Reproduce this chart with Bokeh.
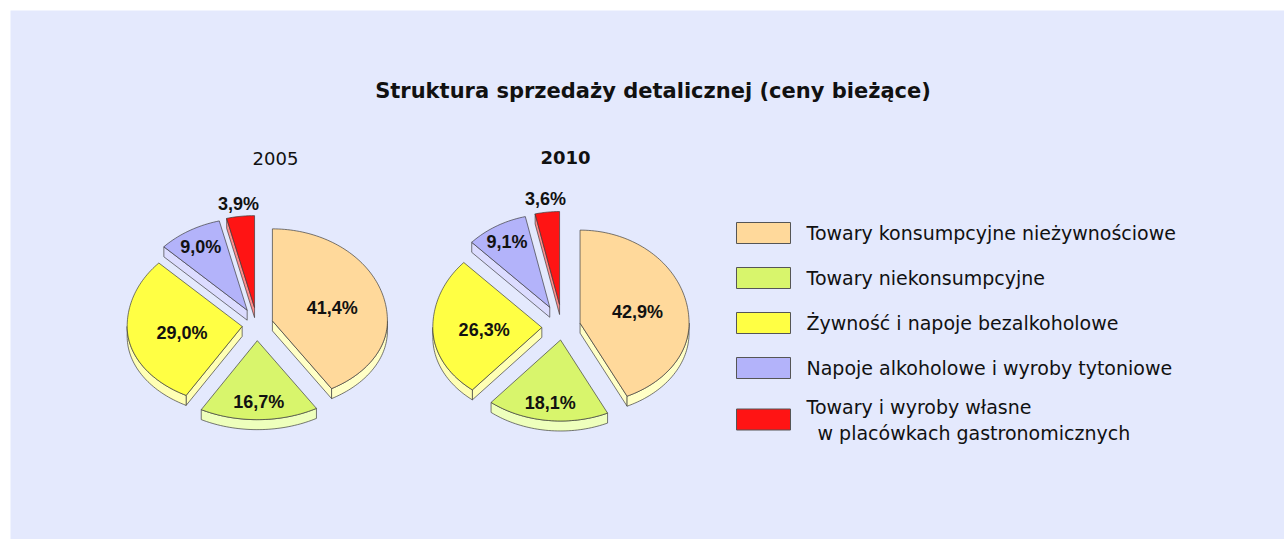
import math
from bokeh.plotting import figure
from bokeh.models import Range1d, ColumnDataSource
from bokeh.core.properties import value
from bokeh.embed import file_html
from bokeh.resources import INLINE

# ---------------- data ----------------
title_text = "Struktura sprzedaży detalicznej (ceny bieżące)"
years = ["2005", "2010"]
categories = [
    "Towary konsumpcyjne nieżywnościowe",
    "Towary niekonsumpcyjne",
    "Żywność i napoje bezalkoholowe",
    "Napoje alkoholowe i wyroby tytoniowe",
    "Towary i wyroby własne\nw placówkach gastronomicznych",
]
values_2005 = [41.4, 16.7, 29.0, 9.0, 3.9]
values_2010 = [42.9, 18.1, 26.3, 9.1, 3.6]

# ---------------- style / layout ----------------
top_colors = ["#FFD99B", "#D8F56C", "#FFFF44", "#B3B3FA", "#FF1414"]
side_colors = ["#FFFFC6", "#EEFFBC", "#FFFFB4", "#DCDCFF", "#FF8C8C"]
BG = "#E4E9FD"
EDGE = "#3A3A3A"

W, H = 1284, 539
X0, X1 = 10, 1284
Y0, Y1 = 10, 539

pies = [
    dict(values=values_2005, cx=256.5, cy=324, rx=115, ry_up=92, ry_down=79,
         explode=[16, 19, 15, 19.5, 20], year_x=275, year_y=158, bold=False),
    dict(values=values_2010, cx=562, cy=326, rx=109, ry_up=93, ry_down=81,
         explode=[18, 16, 20.7, 26, 26], year_x=565, year_y=157, bold=True),
]
THICK = 10
K = 0.85
label_f = [0.54, 0.78, 0.53, 0.8, 1.14]

p = figure(width=W, height=H, output_backend="svg", toolbar_location=None,
           x_range=Range1d(X0, X1), y_range=Range1d(Y1, Y0),
           x_axis_type=None, y_axis_type=None,
           min_border_left=10, min_border_top=10, min_border_right=0, min_border_bottom=0)
p.background_fill_color = BG
p.border_fill_color = "white"
p.outline_line_color = None
p.grid.visible = False


def ell(deg, pie):
    t = math.radians(deg)
    s, c = math.sin(t), math.cos(t)
    ry = pie["ry_up"] if c > 0 else pie["ry_down"]
    return pie["rx"] * s, -c * ry


polys = []
labels_x, labels_y, labels_t = [], [], []

for pie in pies:
    vals = pie["values"]
    total = sum(vals)
    start = 0.0
    for i, v in enumerate(vals):
        a0 = start
        a1 = start + 360.0 * v / total
        start = a1
        m = math.radians((a0 + a1) / 2)
        e = pie["explode"][i]
        ax = pie["cx"] + e * math.sin(m)
        ay = pie["cy"] - e * math.cos(m) * K
        n = max(int((a1 - a0) / 1.5), 4)
        arc = []
        for k in range(n + 1):
            d = a0 + (a1 - a0) * k / n
            dx, dy = ell(d, pie)
            arc.append((ax + dx, ay + dy))
        shapes = []
        if -math.sin(math.radians(a0)) > 1e-6:
            px, py = arc[0]
            shapes.append(([ax, px, px, ax], [ay, py, py + THICK, ay + THICK], side_colors[i]))
        if math.sin(math.radians(a1)) > 1e-6:
            px, py = arc[-1]
            shapes.append(([ax, px, px, ax], [ay, py, py + THICK, ay + THICK], side_colors[i]))
        b0, b1 = max(a0, 90.0), min(a1, 270.0)
        if b1 > b0:
            nb = max(int((b1 - b0) / 1.5), 3)
            top = []
            for k in range(nb + 1):
                d = b0 + (b1 - b0) * k / nb
                dx, dy = ell(d, pie)
                top.append((ax + dx, ay + dy))
            xs = [q[0] for q in top] + [q[0] for q in reversed(top)]
            ys = [q[1] for q in top] + [q[1] + THICK for q in reversed(top)]
            shapes.append((xs, ys, side_colors[i]))
        shapes.append(([ax] + [q[0] for q in arc], [ay] + [q[1] for q in arc], top_colors[i]))
        polys.append((ay, shapes))
        dx, dy = ell(math.degrees(m), pie)
        labels_x.append(ax + label_f[i] * dx)
        labels_y.append(ay + label_f[i] * dy)
        labels_t.append(("%.1f" % v).replace(".", ",") + "%")

polys.sort(key=lambda r: r[0])
src = dict(xs=[], ys=[], fill=[])
for _, shapes in polys:
    for xs, ys, f in shapes:
        src["xs"].append(xs)
        src["ys"].append(ys)
        src["fill"].append(f)
p.patches("xs", "ys", source=ColumnDataSource(src), fill_color="fill",
          line_color=EDGE, line_width=0.8, line_alpha=0.85)

p.text(x=labels_x, y=labels_y, text=labels_t, text_font=value("Liberation Sans"),
       text_font_style="bold", text_font_size="18px", text_align="center",
       text_baseline="middle", text_color="#111111")

p.text(x=[652.5], y=[90], text=[title_text], text_font=value("DejaVu Sans"),
       text_font_style="bold", text_font_size="21px", text_align="center",
       text_baseline="middle", text_color="#111111")

for pie, yr in zip(pies, years):
    p.text(x=[pie["year_x"]], y=[pie["year_y"]], text=[yr], text_font=value("DejaVu Sans"),
           text_font_style="bold" if pie["bold"] else "normal", text_font_size="18px",
           text_align="center", text_baseline="middle", text_color="#111111")

LEG_BOX_X, LEG_TEXT_X = 763, 806
LEG_Y0, LEG_STEP, LINE_H = 232.5, 45, 26
box_y, tx, ty, tt = [], [], [], []
for i, name in enumerate(categories):
    lines = name.split("\n")
    base = LEG_Y0 + LEG_STEP * i
    center = base + (len(lines) - 1) * LINE_H / 4
    box_y.append(center)
    first = center - (len(lines) - 1) * LINE_H / 2
    for j, ln in enumerate(lines):
        tx.append(LEG_TEXT_X + (11 if j > 0 else 0))
        ty.append(first + j * LINE_H)
        tt.append(ln)
p.rect(x=[LEG_BOX_X] * len(categories), y=box_y, width=54, height=21,
       fill_color=top_colors, line_color="#555555", line_width=1)
p.text(x=tx, y=ty, text=tt, text_font=value("DejaVu Sans"), text_font_size="19px",
       text_align="left", text_baseline="middle", text_color="#111111")

open("out.html", "w").write(file_html(p, INLINE))
